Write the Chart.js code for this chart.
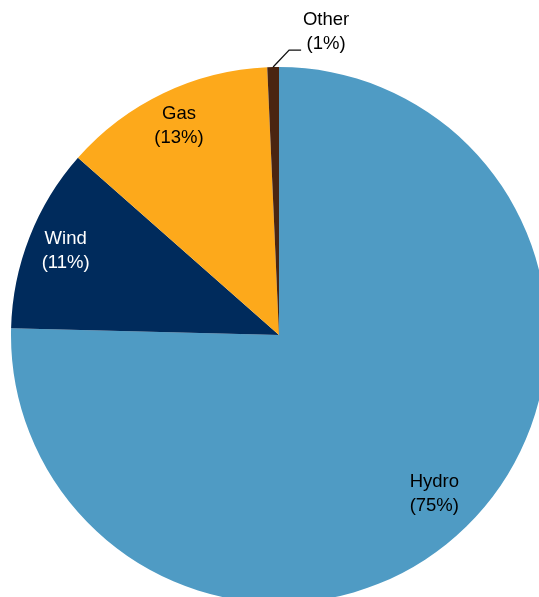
<!DOCTYPE html>
<html>
<head>
<meta charset="utf-8">
<script src="https://cdn.jsdelivr.net/npm/chart.js@4"></script>
<style>
  html, body { margin:0; padding:0; background:#fff; overflow:hidden; }
  #wrap { position:absolute; left:0; top:0; width:558px; height:670px; }
</style>
</head>
<body>
<div id="wrap"><canvas id="pie" width="558" height="670"></canvas></div>
<script>
// generation share by source (%)
const sources = ["Hydro", "Wind", "Gas", "Other"];
const shares = [75.4, 11.1, 12.8, 0.7];
const shareLabels = ["(75%)", "(11%)", "(13%)", "(1%)"];
const colours = ["#4F9BC4", "#002B5C", "#FDA91B", "#4A2511"];
const textColours = ["#000", "#fff", "#000", "#000"];

// labels inside the slices, "Other" goes outside with a leader line
const labelDepth = [0.83, 0.855, 0.865];
const sliceLabels = {
    id: "sliceLabels",
    afterDatasetsDraw(chart) {
        const ctx = chart.ctx;
        const arcs = chart.getDatasetMeta(0).data;
        ctx.save();
        ctx.font = "18.5px 'Liberation Sans', Arial, sans-serif";
        ctx.textAlign = "center";
        ctx.textBaseline = "middle";
        arcs.forEach((arc, i) => {
            const mid = (arc.startAngle + arc.endAngle) / 2;
            if (i === 3) {
                // leader line from slice edge up to the label
                const ex = arc.x + Math.cos(mid) * arc.outerRadius;
                const ey = arc.y + Math.sin(mid) * arc.outerRadius;
                ctx.strokeStyle = "#111";
                ctx.lineWidth = 1.3;
                ctx.beginPath();
                ctx.moveTo(ex, ey);
                ctx.lineTo(ex + 16, ey - 17);
                ctx.lineTo(ex + 28, ey - 17);
                ctx.stroke();
                ctx.fillStyle = textColours[i];
                ctx.fillText(sources[i], ex + 53, ey - 47);
                ctx.fillText(shareLabels[i], ex + 53, ey - 23);
                return;
            }
            const r = arc.outerRadius * labelDepth[i];
            const cx = arc.x + Math.cos(mid) * r;
            const cy = arc.y + Math.sin(mid) * r;
            ctx.fillStyle = textColours[i];
            ctx.fillText(sources[i], cx, cy - 12);
            ctx.fillText(shareLabels[i], cx, cy + 12);
        });
        ctx.restore();
    }
};

new Chart(document.getElementById("pie"), {
    type: "pie",
    data: {
        labels: sources,
        datasets: [{
            data: shares,
            backgroundColor: colours,
            borderWidth: 0
        }]
    },
    options: {
        responsive: false,
        animation: false,
        layout: { padding: { left: 11, right: 11, top: 67, bottom: 67 } },
        plugins: {
            legend: { display: false },
            tooltip: { enabled: false }
        }
    },
    plugins: [sliceLabels]
});
</script>
</body>
</html>
